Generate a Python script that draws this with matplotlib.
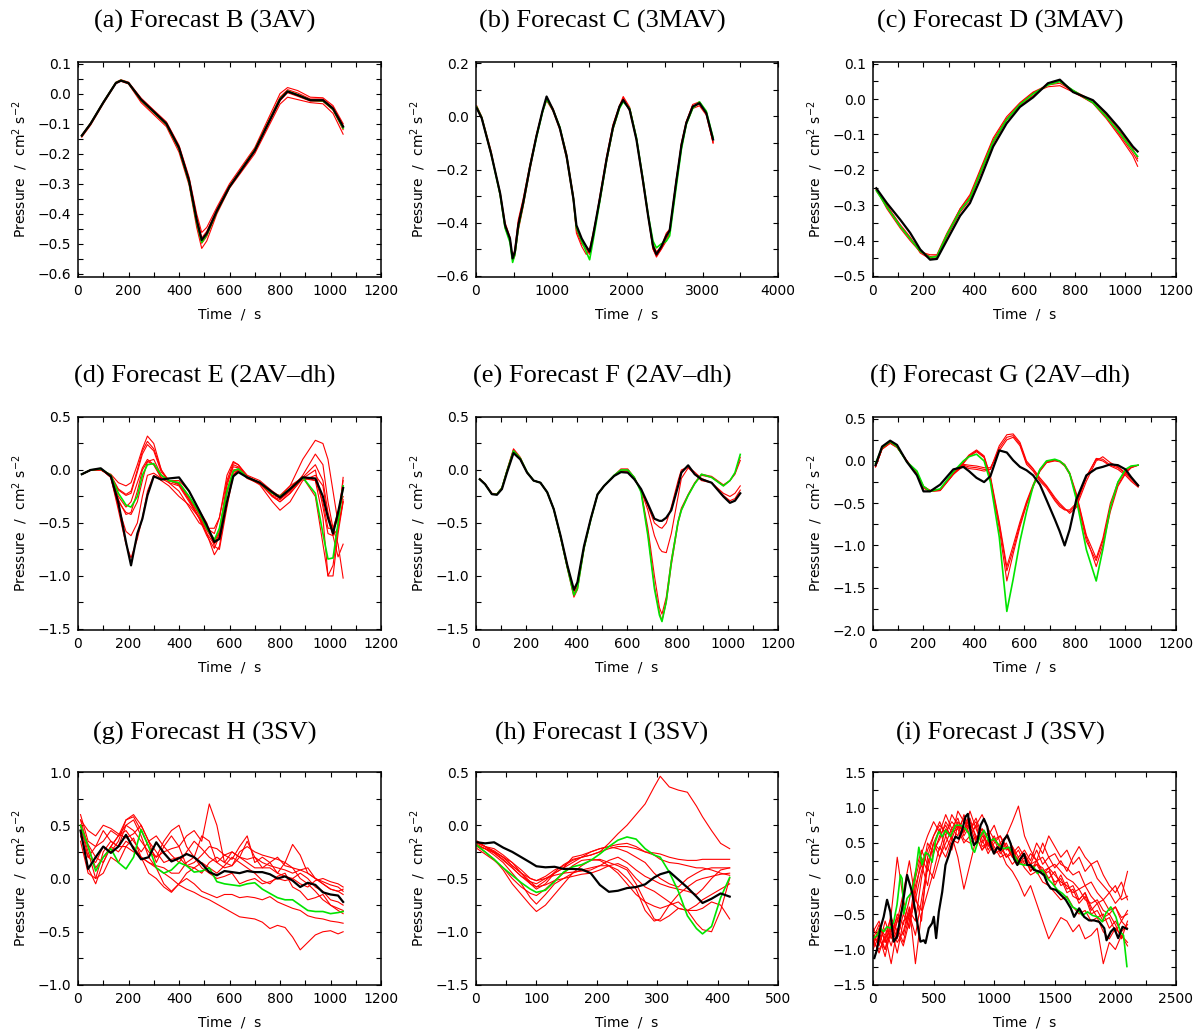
import matplotlib
matplotlib.use('Agg')
import matplotlib.pyplot as plt
from matplotlib.ticker import MultipleLocator, FuncFormatter

# ---------------- data ----------------
# (a) Forecast B
t_a = [15, 50, 100, 150, 170, 200, 250, 300, 350, 400, 440, 470, 490, 510, 550, 600, 700, 800, 830, 870, 920, 970, 1010, 1050]
black_a = [-0.140, -0.100, -0.030, 0.035, 0.043, 0.035, -0.020, -0.060, -0.100, -0.180, -0.290, -0.420, -0.487, -0.465, -0.390, -0.310, -0.190, -0.020, 0.007, -0.005, -0.022, -0.022, -0.050, -0.110]
green_a = [-0.140, -0.100, -0.030, 0.036, 0.044, 0.035, -0.022, -0.062, -0.102, -0.183, -0.295, -0.428, -0.495, -0.470, -0.392, -0.310, -0.188, -0.018, 0.008, -0.004, -0.022, -0.024, -0.052, -0.115]
reds_a = [
    [-0.138, -0.098, -0.028, 0.038, 0.046, 0.038, -0.015, -0.055, -0.094, -0.172, -0.278, -0.400, -0.462, -0.445, -0.378, -0.300, -0.180, 0.000, 0.020, 0.010, -0.012, -0.014, -0.040, -0.100],
    [-0.145, -0.105, -0.034, 0.033, 0.041, 0.032, -0.030, -0.070, -0.110, -0.195, -0.305, -0.445, -0.515, -0.490, -0.400, -0.315, -0.200, -0.035, -0.012, -0.020, -0.030, -0.034, -0.066, -0.135],
    [-0.141, -0.101, -0.031, 0.035, 0.043, 0.034, -0.024, -0.064, -0.104, -0.186, -0.297, -0.432, -0.498, -0.475, -0.393, -0.311, -0.192, -0.024, 0.003, -0.009, -0.025, -0.026, -0.055, -0.120],
    [-0.139, -0.099, -0.029, 0.036, 0.044, 0.036, -0.018, -0.058, -0.098, -0.178, -0.286, -0.414, -0.480, -0.458, -0.386, -0.308, -0.186, -0.012, 0.013, 0.002, -0.018, -0.018, -0.046, -0.106],
]

# (b) Forecast C
t_b = [10, 75, 200, 320, 385, 450, 485, 515, 560, 625, 715, 800, 880, 935, 1020, 1110, 1200, 1290, 1330, 1400, 1460, 1505, 1550, 1640, 1730, 1815, 1900, 1950, 2035, 2125, 2210, 2280, 2345, 2390, 2455, 2520, 2565, 2650, 2720, 2785, 2870, 2960, 3050, 3140]
black_b = [0.031, -0.006, -0.14, -0.29, -0.41, -0.46, -0.535, -0.51, -0.41, -0.325, -0.19, -0.075, 0.02, 0.075, 0.025, -0.044, -0.15, -0.31, -0.41, -0.46, -0.49, -0.51, -0.45, -0.31, -0.16, -0.04, 0.037, 0.062, 0.025, -0.087, -0.24, -0.375, -0.49, -0.52, -0.49, -0.45, -0.43, -0.25, -0.11, -0.025, 0.037, 0.05, 0.0125, -0.087]
green_b = [0.035, -0.004, -0.14, -0.295, -0.42, -0.475, -0.55, -0.52, -0.42, -0.33, -0.19, -0.08, 0.015, 0.065, 0.025, -0.04, -0.15, -0.31, -0.42, -0.47, -0.51, -0.54, -0.47, -0.32, -0.165, -0.045, 0.03, 0.055, 0.03, -0.08, -0.235, -0.37, -0.47, -0.495, -0.48, -0.47, -0.45, -0.27, -0.125, -0.03, 0.03, 0.055, 0.02, -0.08]
reds_b = [
    [0.04, 0.0, -0.13, -0.3, -0.42, -0.47, -0.54, -0.5, -0.39, -0.31, -0.18, -0.07, 0.02, 0.07, 0.03, -0.04, -0.14, -0.3, -0.43, -0.48, -0.5, -0.52, -0.46, -0.3, -0.15, -0.03, 0.04, 0.075, 0.035, -0.08, -0.23, -0.37, -0.5, -0.53, -0.5, -0.46, -0.44, -0.26, -0.1, -0.02, 0.04, 0.045, 0.015, -0.1],
    [0.03, -0.008, -0.145, -0.285, -0.4, -0.455, -0.545, -0.525, -0.43, -0.34, -0.2, -0.08, 0.015, 0.06, 0.02, -0.05, -0.16, -0.32, -0.44, -0.49, -0.52, -0.5, -0.44, -0.32, -0.17, -0.05, 0.03, 0.07, 0.02, -0.09, -0.25, -0.38, -0.5, -0.525, -0.5, -0.47, -0.44, -0.24, -0.12, -0.03, 0.03, 0.04, 0.005, -0.1],
    [0.033, -0.005, -0.14, -0.29, -0.41, -0.46, -0.53, -0.505, -0.4, -0.32, -0.185, -0.07, 0.02, 0.07, 0.025, -0.042, -0.148, -0.305, -0.415, -0.47, -0.49, -0.505, -0.45, -0.305, -0.155, -0.035, 0.04, 0.065, 0.03, -0.085, -0.24, -0.375, -0.48, -0.51, -0.49, -0.44, -0.425, -0.245, -0.105, -0.02, 0.045, 0.055, 0.015, -0.095],
]

# (c) Forecast D
t_c = [13, 55, 108, 147, 187, 226, 253, 292, 345, 384, 424, 476, 529, 582, 634, 693, 740, 792, 871, 924, 976, 1029, 1048]
black_c = [-0.252, -0.294, -0.341, -0.378, -0.425, -0.454, -0.452, -0.40, -0.33, -0.294, -0.228, -0.134, -0.069, -0.022, 0.005, 0.045, 0.055, 0.02, -0.003, -0.04, -0.083, -0.134, -0.148]
green_c = [-0.258, -0.305, -0.36, -0.395, -0.43, -0.448, -0.445, -0.385, -0.315, -0.28, -0.21, -0.12, -0.058, -0.015, 0.015, 0.04, 0.05, 0.025, -0.01, -0.05, -0.095, -0.145, -0.162]
reds_c = [
    [-0.255, -0.31, -0.365, -0.40, -0.432, -0.44, -0.44, -0.38, -0.31, -0.27, -0.2, -0.11, -0.05, -0.01, 0.02, 0.04, 0.045, 0.022, -0.012, -0.055, -0.105, -0.16, -0.19],
    [-0.26, -0.302, -0.355, -0.39, -0.435, -0.452, -0.448, -0.39, -0.32, -0.285, -0.215, -0.125, -0.06, -0.018, 0.01, 0.045, 0.05, 0.025, -0.005, -0.045, -0.09, -0.14, -0.168],
    [-0.255, -0.3, -0.358, -0.392, -0.428, -0.445, -0.443, -0.385, -0.31, -0.275, -0.205, -0.115, -0.055, -0.012, 0.018, 0.035, 0.038, 0.02, -0.01, -0.05, -0.1, -0.152, -0.175],
]

# (d) Forecast E
t_d = [15, 50, 90, 130, 160, 190, 210, 235, 255, 275, 300, 330, 360, 400, 440, 480, 510, 540, 560, 590, 615, 635, 670, 720, 770, 800, 840, 890, 940, 970, 990, 1010, 1030, 1050]
black_d = [-0.04, 0.0, 0.016, -0.06, -0.31, -0.68, -0.9, -0.6, -0.46, -0.24, -0.06, -0.09, -0.08, -0.07, -0.2, -0.38, -0.52, -0.68, -0.65, -0.3, -0.06, -0.02, -0.07, -0.12, -0.21, -0.26, -0.18, -0.07, -0.08, -0.25, -0.45, -0.6, -0.4, -0.17]
green_d = [-0.04, 0.0, 0.01, -0.05, -0.22, -0.33, -0.35, -0.25, -0.05, 0.05, 0.06, -0.05, -0.1, -0.12, -0.25, -0.4, -0.55, -0.66, -0.55, -0.2, -0.01, 0.01, -0.07, -0.12, -0.22, -0.25, -0.18, -0.07, -0.22, -0.6, -0.84, -0.83, -0.5, -0.15]
reds_d = [
    [-0.04, 0.0, 0.0, -0.04, -0.12, -0.15, -0.12, 0.05, 0.2, 0.32, 0.25, 0.0, -0.12, -0.15, -0.3, -0.45, -0.55, -0.55, -0.45, -0.1, 0.07, 0.05, -0.05, -0.1, -0.2, -0.25, -0.15, 0.1, 0.28, 0.25, 0.1, -0.2, -0.5, -0.07],
    [-0.04, 0.0, 0.0, -0.05, -0.18, -0.23, -0.2, 0.0, 0.18, 0.27, 0.2, 0.0, -0.1, -0.14, -0.28, -0.45, -0.6, -0.7, -0.6, -0.15, 0.05, 0.03, -0.06, -0.12, -0.22, -0.27, -0.2, -0.05, 0.15, 0.05, -0.3, -0.55, -0.7, -1.02],
    [-0.04, 0.0, 0.0, -0.05, -0.19, -0.24, -0.22, -0.02, 0.15, 0.24, 0.18, -0.02, -0.1, -0.13, -0.27, -0.42, -0.57, -0.68, -0.58, -0.12, 0.03, 0.02, -0.07, -0.12, -0.25, -0.3, -0.22, -0.08, 0.0, -0.35, -0.6, -0.62, -0.82, -0.7],
    [-0.04, 0.0, 0.005, -0.06, -0.3, -0.4, -0.42, -0.3, -0.1, 0.08, 0.1, -0.05, -0.1, -0.12, -0.25, -0.42, -0.56, -0.65, -0.6, -0.22, -0.02, 0.0, -0.07, -0.13, -0.25, -0.28, -0.2, -0.07, -0.25, -0.7, -1.0, -1.0, -0.6, -0.3],
    [-0.04, 0.0, 0.01, -0.07, -0.35, -0.58, -0.62, -0.5, -0.25, -0.05, -0.03, -0.08, -0.1, -0.1, -0.2, -0.38, -0.5, -0.72, -0.75, -0.35, -0.05, 0.0, -0.07, -0.12, -0.25, -0.3, -0.22, -0.08, -0.1, -0.3, -0.55, -0.55, -0.4, -0.25],
    [-0.04, 0.0, 0.01, -0.07, -0.38, -0.7, -0.83, -0.65, -0.45, -0.2, -0.05, -0.1, -0.15, -0.25, -0.33, -0.45, -0.6, -0.8, -0.72, -0.3, -0.04, 0.0, -0.07, -0.14, -0.3, -0.38, -0.3, -0.1, -0.05, -0.15, -0.45, -0.62, -0.55, -0.3],
    [-0.04, 0.0, 0.005, -0.05, -0.28, -0.42, -0.4, -0.2, 0.0, 0.08, 0.05, -0.08, -0.12, -0.2, -0.35, -0.5, -0.55, -0.6, -0.45, -0.05, 0.08, 0.05, -0.07, -0.12, -0.22, -0.24, -0.15, -0.07, 0.05, -0.1, -0.4, -0.58, -0.45, -0.1],
    [-0.04, 0.0, 0.01, -0.06, -0.25, -0.35, -0.3, -0.12, 0.02, 0.1, 0.05, -0.07, -0.1, -0.13, -0.28, -0.46, -0.62, -0.74, -0.62, -0.2, 0.0, 0.01, -0.08, -0.13, -0.24, -0.26, -0.17, -0.06, -0.1, -0.45, -1.0, -0.9, -0.55, -0.28],
]

# (e) Forecast F
t_e = [15, 36, 63, 83, 103, 123, 149, 176, 203, 229, 256, 283, 309, 336, 363, 389, 403, 429, 456, 483, 509, 549, 576, 603, 629, 656, 683, 709, 729, 739, 756, 776, 803, 816, 843, 869, 896, 936, 983, 1009, 1029, 1050]
black_e = [-0.0875, -0.134, -0.228, -0.234, -0.18, -0.025, 0.16, 0.1, -0.025, -0.1, -0.12, -0.21, -0.37, -0.62, -0.9, -1.13, -1.06, -0.72, -0.46, -0.23, -0.15, -0.056, -0.02, -0.025, -0.0875, -0.18, -0.32, -0.46, -0.48, -0.48, -0.45, -0.38, -0.15, -0.025, 0.044, -0.04, -0.0875, -0.12, -0.25, -0.31, -0.29, -0.22]
green_e = [-0.0875, -0.134, -0.228, -0.23, -0.17, -0.01, 0.18, 0.11, -0.02, -0.1, -0.12, -0.21, -0.37, -0.63, -0.92, -1.18, -1.12, -0.74, -0.47, -0.23, -0.15, -0.05, 0.0, 0.0, -0.07, -0.21, -0.62, -1.12, -1.37, -1.43, -1.24, -0.87, -0.49, -0.38, -0.24, -0.13, -0.04, -0.07, -0.15, -0.1, -0.025, 0.147]
reds_e = [
    [-0.085, -0.13, -0.22, -0.225, -0.165, 0.0, 0.2, 0.12, -0.02, -0.1, -0.12, -0.21, -0.37, -0.64, -0.93, -1.2, -1.13, -0.75, -0.47, -0.23, -0.15, -0.05, 0.01, 0.01, -0.07, -0.2, -0.6, -1.1, -1.35, -1.42, -1.25, -0.9, -0.5, -0.38, -0.24, -0.13, -0.05, -0.07, -0.15, -0.1, -0.03, 0.12],
    [-0.085, -0.13, -0.225, -0.23, -0.17, -0.01, 0.19, 0.11, -0.02, -0.1, -0.12, -0.21, -0.37, -0.63, -0.92, -1.17, -1.1, -0.73, -0.46, -0.23, -0.15, -0.05, 0.0, 0.0, -0.07, -0.2, -0.55, -1.0, -1.3, -1.36, -1.2, -0.85, -0.48, -0.36, -0.23, -0.12, -0.04, -0.06, -0.14, -0.1, -0.04, 0.09],
    [-0.0875, -0.134, -0.228, -0.232, -0.175, -0.015, 0.17, 0.1, -0.025, -0.1, -0.12, -0.21, -0.37, -0.62, -0.9, -1.15, -1.08, -0.73, -0.46, -0.23, -0.15, -0.055, -0.01, -0.01, -0.08, -0.19, -0.38, -0.62, -0.74, -0.77, -0.78, -0.6, -0.25, -0.08, 0.02, -0.04, -0.1, -0.12, -0.22, -0.25, -0.22, -0.15],
    [-0.0875, -0.134, -0.228, -0.232, -0.178, -0.02, 0.165, 0.1, -0.025, -0.1, -0.12, -0.21, -0.37, -0.62, -0.9, -1.14, -1.07, -0.72, -0.46, -0.23, -0.15, -0.056, -0.015, -0.02, -0.085, -0.185, -0.34, -0.5, -0.54, -0.55, -0.5, -0.35, -0.1, 0.0, 0.03, -0.02, -0.08, -0.12, -0.24, -0.29, -0.27, -0.19],
]

# (f) Forecast G
t_f = [10, 36, 68, 95, 134, 174, 200, 226, 266, 318, 358, 380, 410, 440, 465, 500, 530, 555, 582, 608, 634, 661, 687, 720, 739, 759, 779, 805, 845, 884, 910, 940, 970, 1000, 1022, 1050]
black_f = [-0.05, 0.17, 0.24, 0.19, -0.01, -0.17, -0.36, -0.36, -0.28, -0.1, -0.07, -0.12, -0.2, -0.25, -0.18, 0.125, 0.1, 0.008, -0.07, -0.11, -0.17, -0.28, -0.46, -0.69, -0.83, -1.0, -0.81, -0.46, -0.17, -0.09, -0.07, -0.04, -0.05, -0.1, -0.19, -0.29]
green_f = [-0.03, 0.16, 0.23, 0.17, -0.01, -0.12, -0.3, -0.36, -0.33, -0.13, 0.0, 0.05, 0.08, 0.0, -0.25, -0.9, -1.78, -1.4, -0.95, -0.6, -0.3, -0.1, 0.0, 0.02, 0.0, -0.05, -0.15, -0.45, -1.05, -1.42, -1.05, -0.55, -0.25, -0.1, -0.06, -0.05]
reds_f = [
    [-0.06, 0.15, 0.22, 0.17, 0.0, -0.15, -0.3, -0.35, -0.34, -0.15, -0.02, 0.06, 0.12, 0.05, -0.2, -0.75, -1.3, -1.05, -0.75, -0.5, -0.3, -0.12, -0.02, 0.01, 0.0, -0.05, -0.15, -0.4, -0.9, -1.25, -1.0, -0.6, -0.3, -0.15, -0.08, -0.05],
    [-0.07, 0.14, 0.21, 0.16, 0.0, -0.14, -0.31, -0.36, -0.35, -0.16, -0.03, 0.05, 0.11, 0.04, -0.22, -0.8, -1.42, -1.1, -0.78, -0.52, -0.31, -0.12, -0.02, 0.0, -0.01, -0.06, -0.16, -0.42, -0.95, -1.18, -0.95, -0.55, -0.28, -0.14, -0.08, -0.05],
    [-0.06, 0.15, 0.22, 0.17, 0.0, -0.16, -0.32, -0.36, -0.34, -0.14, -0.01, 0.07, 0.13, 0.06, -0.18, -0.72, -1.25, -1.0, -0.72, -0.48, -0.28, -0.1, -0.01, 0.01, 0.0, -0.04, -0.14, -0.38, -0.88, -1.15, -0.92, -0.5, -0.25, -0.12, -0.07, -0.05],
    [-0.06, 0.15, 0.22, 0.17, 0.0, -0.15, -0.3, -0.35, -0.34, -0.15, -0.05, -0.07, -0.08, -0.1, -0.1, 0.15, 0.28, 0.3, 0.2, -0.02, -0.1, -0.22, -0.3, -0.45, -0.52, -0.57, -0.6, -0.52, -0.2, 0.03, 0.02, -0.05, -0.08, -0.15, -0.22, -0.3],
    [-0.07, 0.14, 0.21, 0.16, 0.0, -0.16, -0.32, -0.36, -0.35, -0.16, -0.06, -0.09, -0.1, -0.12, -0.1, 0.18, 0.31, 0.32, 0.22, 0.0, -0.09, -0.2, -0.29, -0.43, -0.5, -0.56, -0.62, -0.55, -0.24, 0.0, 0.05, -0.02, -0.07, -0.14, -0.2, -0.28],
    [-0.06, 0.15, 0.22, 0.17, 0.0, -0.15, -0.31, -0.35, -0.34, -0.15, -0.04, -0.05, -0.06, -0.08, -0.08, 0.12, 0.25, 0.28, 0.18, -0.04, -0.12, -0.24, -0.32, -0.47, -0.54, -0.58, -0.58, -0.5, -0.18, 0.02, 0.0, -0.06, -0.1, -0.17, -0.24, -0.31],
]

# (g) Forecast H
t_g = [10, 40, 70, 100, 130, 160, 190, 220, 250, 280, 310, 340, 370, 400, 430, 460, 490, 520, 550, 580, 610, 640, 670, 700, 730, 760, 790, 820, 850, 880, 910, 940, 970, 1000, 1030, 1050]
black_g = [0.45, 0.09, 0.2, 0.3, 0.24, 0.3, 0.41, 0.28, 0.18, 0.2, 0.34, 0.24, 0.16, 0.19, 0.23, 0.2, 0.14, 0.06, 0.03, 0.07, 0.06, 0.05, 0.07, 0.06, 0.06, 0.04, 0.0, 0.02, -0.02, -0.08, -0.04, -0.06, -0.13, -0.15, -0.16, -0.22]
green_g = [0.5, 0.3, 0.07, 0.2, 0.28, 0.15, 0.09, 0.2, 0.46, 0.3, 0.1, 0.05, 0.08, 0.15, 0.12, 0.06, 0.07, 0.1, -0.03, -0.05, -0.06, -0.07, -0.05, -0.04, -0.1, -0.14, -0.18, -0.2, -0.2, -0.25, -0.3, -0.31, -0.31, -0.33, -0.32, -0.31]
reds_g = [
    [0.55, 0.3, 0.1, 0.2, 0.3, 0.25, 0.35, 0.3, 0.2, 0.15, 0.1, 0.05, 0.0, -0.06, -0.1, -0.13, -0.17, -0.2, -0.24, -0.28, -0.32, -0.36, -0.37, -0.38, -0.41, -0.47, -0.44, -0.46, -0.55, -0.67, -0.6, -0.53, -0.5, -0.49, -0.52, -0.5],
    [0.6, 0.35, 0.3, 0.45, 0.35, 0.3, 0.5, 0.55, 0.4, 0.2, 0.1, -0.05, -0.12, -0.05, 0.0, -0.05, -0.12, -0.15, -0.18, -0.15, -0.15, -0.18, -0.17, -0.18, -0.2, -0.17, -0.22, -0.25, -0.28, -0.3, -0.35, -0.37, -0.38, -0.4, -0.41, -0.42],
    [0.5, 0.2, 0.3, 0.35, 0.45, 0.4, 0.5, 0.45, 0.35, 0.25, 0.2, 0.25, 0.28, 0.3, 0.4, 0.45, 0.35, 0.7, 0.5, 0.15, 0.12, 0.2, 0.15, 0.1, 0.1, 0.1, 0.05, 0.15, 0.32, 0.22, 0.05, 0.0, -0.05, -0.1, -0.12, -0.1],
    [0.45, 0.1, -0.05, 0.15, 0.3, 0.4, 0.55, 0.58, 0.45, 0.3, 0.2, 0.35, 0.45, 0.5, 0.3, 0.2, 0.4, 0.35, 0.15, 0.22, 0.18, 0.3, 0.4, 0.15, 0.2, 0.15, 0.05, 0.02, 0.0, -0.05, -0.08, -0.02, 0.0, -0.03, -0.05, -0.08],
    [0.55, 0.45, 0.4, 0.5, 0.47, 0.42, 0.38, 0.42, 0.5, 0.35, 0.15, 0.3, 0.4, 0.3, 0.12, 0.15, 0.22, 0.3, 0.28, 0.22, 0.25, 0.2, 0.18, 0.2, 0.15, 0.12, 0.1, 0.08, 0.05, 0.08, 0.1, 0.0, -0.05, -0.1, -0.12, -0.15],
    [0.4, 0.2, 0.15, 0.3, 0.25, 0.35, 0.55, 0.6, 0.5, 0.35, 0.25, 0.15, 0.18, 0.2, 0.12, 0.1, 0.15, 0.1, 0.05, 0.12, 0.2, 0.15, 0.1, 0.05, -0.02, -0.05, 0.02, 0.05, -0.08, -0.12, -0.2, -0.18, -0.15, -0.25, -0.3, -0.33],
    [0.5, 0.32, 0.2, 0.15, 0.3, 0.4, 0.45, 0.35, 0.25, 0.35, 0.4, 0.3, 0.22, 0.15, 0.25, 0.35, 0.28, 0.2, 0.15, 0.1, 0.12, 0.25, 0.3, 0.25, 0.22, 0.2, 0.18, 0.15, 0.1, 0.08, 0.05, 0.0, -0.03, -0.06, -0.08, -0.12],
    [0.35, 0.05, 0.0, 0.25, 0.35, 0.3, 0.3, 0.25, 0.2, 0.15, 0.12, 0.1, 0.05, 0.05, 0.15, 0.2, 0.1, 0.05, 0.0, 0.02, 0.05, -0.05, -0.02, 0.0, -0.05, -0.03, 0.0, -0.02, 0.0, 0.05, 0.0, -0.08, -0.12, -0.2, -0.22, -0.25],
    [0.5, 0.25, 0.0, 0.05, 0.2, 0.15, 0.3, 0.38, 0.2, 0.05, 0.0, -0.08, -0.13, -0.05, 0.05, 0.1, 0.05, 0.15, 0.2, 0.15, 0.25, 0.2, 0.35, 0.2, 0.1, 0.15, 0.2, 0.12, 0.1, 0.0, -0.05, -0.12, -0.2, -0.25, -0.28, -0.3],
]

# (h) Forecast I
t_h = [2, 15, 30, 45, 60, 75, 90, 100, 115, 130, 145, 160, 175, 190, 205, 220, 235, 250, 265, 280, 295, 305, 320, 335, 350, 365, 375, 390, 405, 420]
black_h = [-0.16, -0.17, -0.16, -0.21, -0.25, -0.3, -0.35, -0.385, -0.395, -0.39, -0.41, -0.41, -0.415, -0.45, -0.56, -0.625, -0.615, -0.59, -0.58, -0.555, -0.49, -0.46, -0.435, -0.51, -0.585, -0.67, -0.73, -0.69, -0.64, -0.67]
green_h = [-0.19, -0.25, -0.32, -0.4, -0.47, -0.54, -0.6, -0.63, -0.61, -0.53, -0.44, -0.39, -0.37, -0.33, -0.27, -0.2, -0.14, -0.11, -0.13, -0.22, -0.28, -0.3, -0.44, -0.62, -0.85, -0.97, -1.02, -0.95, -0.68, -0.49]
reds_h = [
    [-0.15, -0.2, -0.25, -0.3, -0.35, -0.42, -0.5, -0.52, -0.48, -0.42, -0.38, -0.33, -0.3, -0.28, -0.25, -0.17, -0.08, 0.0, 0.1, 0.2, 0.36, 0.46, 0.36, 0.33, 0.31, 0.18, 0.08, -0.05, -0.17, -0.22],
    [-0.2, -0.25, -0.32, -0.42, -0.55, -0.65, -0.75, -0.81, -0.75, -0.65, -0.55, -0.45, -0.38, -0.33, -0.32, -0.35, -0.38, -0.42, -0.55, -0.72, -0.88, -0.9, -0.85, -0.78, -0.8, -0.75, -0.7, -0.65, -0.6, -0.55],
    [-0.18, -0.22, -0.28, -0.35, -0.45, -0.55, -0.68, -0.74, -0.65, -0.55, -0.5, -0.45, -0.42, -0.4, -0.38, -0.38, -0.42, -0.5, -0.6, -0.8, -0.9, -0.88, -0.75, -0.72, -0.8, -0.92, -0.98, -1.0, -0.8, -0.5],
    [-0.15, -0.2, -0.22, -0.28, -0.35, -0.45, -0.55, -0.6, -0.55, -0.45, -0.4, -0.3, -0.28, -0.25, -0.22, -0.2, -0.18, -0.17, -0.2, -0.25, -0.26, -0.27, -0.3, -0.32, -0.33, -0.33, -0.32, -0.32, -0.32, -0.32],
    [-0.2, -0.22, -0.26, -0.32, -0.4, -0.48, -0.53, -0.55, -0.5, -0.45, -0.4, -0.35, -0.3, -0.28, -0.25, -0.22, -0.2, -0.2, -0.22, -0.25, -0.28, -0.32, -0.35, -0.36, -0.38, -0.4, -0.4, -0.42, -0.45, -0.47],
    [-0.17, -0.2, -0.24, -0.3, -0.38, -0.45, -0.53, -0.58, -0.56, -0.52, -0.5, -0.48, -0.46, -0.45, -0.42, -0.38, -0.36, -0.4, -0.5, -0.58, -0.62, -0.66, -0.72, -0.78, -0.8, -0.8, -0.78, -0.72, -0.75, -0.88],
    [-0.22, -0.27, -0.33, -0.4, -0.5, -0.58, -0.64, -0.66, -0.6, -0.52, -0.45, -0.38, -0.33, -0.32, -0.33, -0.38, -0.45, -0.55, -0.65, -0.72, -0.76, -0.78, -0.75, -0.65, -0.58, -0.52, -0.5, -0.48, -0.46, -0.45],
    [-0.19, -0.22, -0.25, -0.3, -0.38, -0.45, -0.5, -0.52, -0.5, -0.47, -0.45, -0.44, -0.43, -0.42, -0.38, -0.33, -0.3, -0.35, -0.42, -0.48, -0.52, -0.55, -0.58, -0.6, -0.62, -0.65, -0.6, -0.5, -0.42, -0.4],
    [-0.16, -0.2, -0.26, -0.33, -0.4, -0.48, -0.55, -0.58, -0.52, -0.44, -0.37, -0.32, -0.3, -0.25, -0.22, -0.2, -0.22, -0.25, -0.3, -0.35, -0.45, -0.5, -0.55, -0.58, -0.5, -0.45, -0.42, -0.4, -0.4, -0.4],
]

# (i) Forecast J
t_i_black = [11, 33, 61, 88, 116, 143, 171, 198, 240, 281, 322, 364, 391, 419, 433, 460, 488, 502, 521, 543, 571, 598, 626, 653, 681, 708, 736, 763, 783, 805, 832, 860, 888, 915, 943, 970, 998, 1025, 1053, 1080, 1108, 1136, 1163, 1191, 1218, 1246, 1273, 1301, 1328, 1370, 1411, 1439, 1466, 1508, 1549, 1590, 1632, 1659, 1701, 1742, 1783, 1824, 1866, 1908, 1927, 1962, 1990, 2023, 2059, 2095]
black_i = [-1.12, -1.0, -0.70, -0.54, -0.30, -0.47, -0.89, -0.82, -0.42, 0.05, -0.19, -0.61, -0.89, -0.87, -0.91, -0.70, -0.63, -0.54, -0.84, -0.47, -0.19, 0.19, 0.33, 0.49, 0.59, 0.56, 0.68, 0.87, 0.91, 0.66, 0.47, 0.52, 0.75, 0.84, 0.73, 0.47, 0.35, 0.44, 0.40, 0.54, 0.61, 0.49, 0.28, 0.19, 0.28, 0.35, 0.19, 0.19, 0.12, 0.10, 0.05, -0.07, -0.14, -0.16, -0.23, -0.30, -0.42, -0.54, -0.42, -0.54, -0.59, -0.59, -0.61, -0.70, -0.87, -0.75, -0.70, -0.84, -0.68, -0.71]
t_i_green = [5, 33, 61, 88, 116, 143, 171, 198, 226, 240, 254, 281, 322, 350, 378, 405, 433, 460, 488, 515, 543, 571, 598, 639, 681, 722, 763, 791, 818, 838, 874, 915, 956, 998, 1039, 1080, 1122, 1163, 1205, 1246, 1287, 1328, 1356, 1397, 1439, 1480, 1521, 1563, 1604, 1646, 1687, 1728, 1770, 1811, 1852, 1893, 1921, 1962, 2004, 2040, 2067, 2095]
green_i = [-0.84, -0.80, -0.70, -0.75, -0.68, -0.70, -0.61, -0.37, 0.05, 0.0, -0.5, -0.28, -0.19, 0.05, 0.44, 0.19, 0.37, 0.33, 0.23, 0.52, 0.66, 0.59, 0.68, 0.59, 0.75, 0.75, 0.70, 0.63, 0.42, 0.37, 0.56, 0.68, 0.52, 0.56, 0.47, 0.42, 0.44, 0.33, 0.21, 0.19, 0.19, 0.16, 0.07, 0.12, 0.0, -0.07, -0.16, -0.21, -0.28, -0.40, -0.44, -0.52, -0.47, -0.52, -0.54, -0.61, -0.49, -0.40, -0.54, -0.75, -0.80, -1.24]
t_i = [0, 50, 100, 150, 200, 250, 300, 350, 400, 450, 500, 550, 600, 650, 700, 750, 800, 850, 900, 950, 1000, 1050, 1100, 1150, 1200, 1250, 1300, 1350, 1400, 1450, 1500, 1550, 1600, 1650, 1700, 1750, 1800, 1850, 1900, 1950, 2000, 2050, 2100]
reds_i = [
    [-0.8, -0.9, -0.7, -0.95, -0.6, -0.2, 0.25, -0.3, 0.1, 0.4, 0.6, 0.75, 0.65, 0.8, 0.7, 0.85, 0.6, 0.75, 0.9, 0.7, 0.55, 0.6, 0.45, 0.35, 0.45, 0.3, 0.2, 0.25, 0.1, 0.15, 0.05, -0.05, -0.1, -0.2, -0.15, -0.3, -0.35, -0.3, -0.45, -0.5, -0.4, -0.55, -0.5],
    [-0.9, -0.75, -1.0, -0.6, -0.85, -0.5, -0.7, -0.2, 0.3, 0.1, 0.5, 0.4, 0.7, 0.6, 0.95, 0.8, 0.7, 0.85, 0.6, 0.5, 0.55, 0.45, 0.6, 0.8, 1.02, 0.6, 0.4, 0.25, 0.3, 0.15, 0.2, 0.1, 0.0, -0.05, -0.15, -0.1, -0.25, -0.35, -0.3, -0.45, -0.4, -0.6, -0.45],
    [-0.85, -1.05, -0.8, -1.2, -0.7, -0.9, -0.5, -0.8, -0.3, 0.2, 0.5, 0.3, 0.6, 0.4, 0.75, 0.55, 0.5, 0.6, 0.4, 0.5, 0.35, 0.4, 0.2, 0.1, -0.05, -0.25, -0.1, -0.35, -0.6, -0.85, -0.7, -0.55, -0.6, -0.75, -0.65, -0.85, -0.8, -0.7, -1.2, -0.9, -1.0, -0.8, -0.95],
    [-0.75, -0.6, -0.9, -0.5, 0.3, -0.3, -0.6, 0.0, 0.35, 0.6, 0.8, 0.65, 0.9, 0.7, 0.85, 0.6, 0.75, 0.5, 0.65, 0.4, 0.55, 0.35, 0.45, 0.3, 0.4, 0.2, 0.35, 0.25, 0.5, 0.3, 0.35, 0.2, 0.15, 0.05, 0.1, -0.1, -0.05, -0.2, -0.3, -0.2, -0.35, -0.25, 0.1],
    [-1.0, -0.8, -1.1, -0.7, -0.9, -0.75, -0.4, -1.2, -0.5, -0.2, 0.1, 0.45, 0.3, 0.55, 0.5, 0.7, 0.85, 0.55, 0.7, 0.45, 0.6, 0.4, 0.5, 0.3, 0.25, 0.35, 0.1, 0.2, 0.15, 0.0, 0.1, -0.1, -0.05, -0.25, -0.3, -0.2, -0.4, -0.55, -0.5, -0.7, -0.6, -0.75, -0.65],
    [-0.8, -0.95, -0.6, -0.85, -0.5, -0.65, -0.3, 0.1, 0.4, 0.2, 0.5, 0.7, 0.4, 0.6, 0.3, -0.15, 0.2, 0.55, 0.7, 0.6, 0.75, 0.5, 0.6, 0.45, 0.3, 0.4, 0.25, 0.5, 0.35, 0.6, 0.45, 0.3, 0.4, 0.2, 0.3, 0.1, 0.2, 0.0, -0.1, -0.2, -0.1, -0.3, -0.25],
    [-0.7, -0.85, -1.0, -0.75, -0.55, -0.8, -0.45, -0.6, 0.0, 0.5, 0.35, 0.6, 0.75, 0.55, 0.8, 0.65, 0.95, 0.7, 0.5, 0.65, 0.4, 0.45, 0.3, 0.35, 0.2, 0.25, 0.15, 0.2, 0.05, 0.1, -0.05, 0.0, -0.2, -0.15, -0.35, -0.25, -0.5, -0.45, -0.6, -0.55, -0.75, -0.6, -0.7],
    [-0.95, -0.7, -0.8, -0.55, -0.75, -0.95, -0.6, -0.3, -0.45, 0.15, 0.0, 0.3, 0.5, 0.7, 0.6, 0.9, 0.7, 0.8, 0.55, 0.35, 0.5, 0.6, 0.4, 0.45, 0.2, 0.3, 0.1, 0.25, 0.05, 0.15, -0.1, 0.05, -0.15, -0.1, -0.3, -0.2, -0.45, -0.35, -0.55, -0.5, -0.65, -0.85, -0.6],
    [-0.85, -0.65, -0.9, -0.8, -0.6, -0.4, -0.7, -0.1, 0.2, -0.1, 0.4, 0.55, 0.8, 0.65, 0.7, 0.5, 0.6, 0.75, 0.45, 0.5, 0.35, 0.5, 0.3, 0.4, 0.25, 0.35, 0.2, 0.4, 0.2, 0.3, 0.15, 0.25, 0.1, 0.3, 0.45, 0.3, 0.2, 0.25, 0.05, -0.1, -0.2, -0.05, -0.3],
    [-0.9, -1.0, -0.85, -0.7, -1.05, -0.6, -0.5, -0.25, -0.6, 0.3, 0.6, 0.8, 0.6, 0.9, 0.75, 0.65, 0.8, 0.6, 0.4, 0.55, 0.45, 0.3, 0.35, 0.2, 0.3, 0.15, 0.05, 0.1, -0.05, -0.1, -0.2, -0.3, -0.25, -0.4, -0.5, -0.45, -0.6, -0.55, -0.75, -0.85, -0.7, -0.8, -0.9],
]

titles = ['(a) Forecast B (3AV)', '(b) Forecast C (3MAV)', '(c) Forecast D (3MAV)',
          '(d) Forecast E (2AV\u2013dh)', '(e) Forecast F (2AV\u2013dh)', '(f) Forecast G (2AV\u2013dh)',
          '(g) Forecast H (3SV)', '(h) Forecast I (3SV)', '(i) Forecast J (3SV)']

RED = '#ff0000'
GREEN = '#00e400'

W, H = 1201, 1029
fig = plt.figure(figsize=(W / 100, H / 100), dpi=100)

col_left = [78, 476, 873]
col_right = [381, 778, 1176]
row_top = [62, 417, 772]
row_bot = [277, 630, 985]
title_x = [205, 602, 1000]
title_y = [21, 376, 733]


def fmt_y(v, pos):
    if abs(v) < 1e-9:
        v = 0.0
    return ('%.1f' % v).replace('-', '\u2212')


def make_axes(i, xlim, xstep, ylim, ystep):
    r, c = divmod(i, 3)
    ax = fig.add_axes([col_left[c] / W, 1 - row_bot[r] / H,
                       (col_right[c] - col_left[c]) / W, (row_bot[r] - row_top[r]) / H])
    ax.set_xlim(*xlim)
    ax.set_ylim(*ylim)
    ax.xaxis.set_major_locator(MultipleLocator(xstep))
    ax.xaxis.set_minor_locator(MultipleLocator(xstep / 2))
    ax.yaxis.set_major_locator(MultipleLocator(ystep))
    ax.yaxis.set_minor_locator(MultipleLocator(ystep / 2))
    ax.yaxis.set_major_formatter(FuncFormatter(fmt_y))
    ax.tick_params(which='both', direction='in', top=True, right=True,
                   length=3.5, width=0.8, labelsize=10, pad=5)
    for s in ax.spines.values():
        s.set_linewidth(1.1)
    ax.set_xlabel('Time  /  s', fontsize=10, labelpad=7)
    ax.set_ylabel('Pressure  /  cm$^2$ s$^{-2}$', fontsize=10, labelpad=5)
    fig.text(title_x[c] / W, 1 - title_y[r] / H, titles[i], ha='center', va='center',
             fontsize=19, family='Liberation Serif')
    return ax


def draw(ax, t_red, reds, t_green, green, t_black, black):
    for r in reds:
        ax.plot(t_red, r, color=RED, lw=0.8)
    ax.plot(t_green, green, color=GREEN, lw=1.2)
    ax.plot(t_black, black, color='black', lw=1.6)


ax = make_axes(0, (0, 1200), 200, (-0.61, 0.105), 0.1)
draw(ax, t_a, reds_a, t_a, green_a, t_a, black_a)

ax = make_axes(1, (0, 4000), 1000, (-0.605, 0.205), 0.2)
draw(ax, t_b, reds_b, t_b, green_b, t_b, black_b)

ax = make_axes(2, (0, 1200), 200, (-0.503, 0.105), 0.1)
draw(ax, t_c, reds_c, t_c, green_c, t_c, black_c)

ax = make_axes(3, (0, 1200), 200, (-1.51, 0.5), 0.5)
draw(ax, t_d, reds_d, t_d, green_d, t_d, black_d)

ax = make_axes(4, (0, 1200), 200, (-1.51, 0.5), 0.5)
draw(ax, t_e, reds_e, t_e, green_e, t_e, black_e)

ax = make_axes(5, (0, 1200), 200, (-2.0, 0.52), 0.5)
draw(ax, t_f, reds_f, t_f, green_f, t_f, black_f)

ax = make_axes(6, (0, 1200), 200, (-1.0, 1.0), 0.5)
draw(ax, t_g, reds_g, t_g, green_g, t_g, black_g)

ax = make_axes(7, (0, 500), 100, (-1.5, 0.5), 0.5)
draw(ax, t_h, reds_h, t_h, green_h, t_h, black_h)

ax = make_axes(8, (0, 2500), 500, (-1.5, 1.5), 0.5)
draw(ax, t_i, reds_i, t_i_green, green_i, t_i_black, black_i)

fig.savefig('out.png', dpi=100)
